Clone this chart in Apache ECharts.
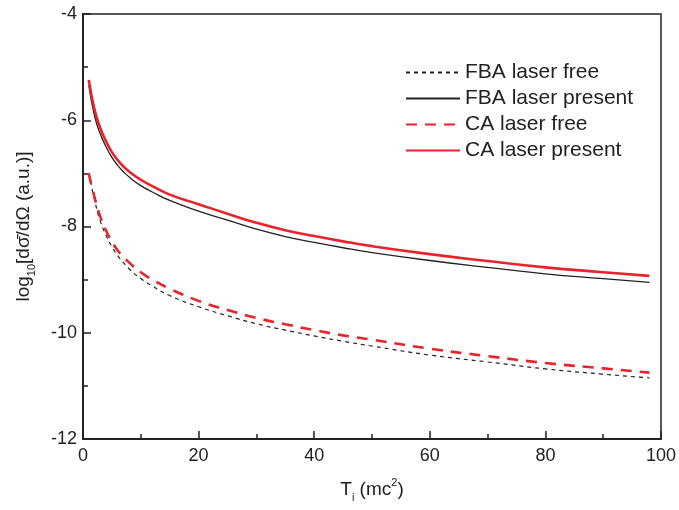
<!DOCTYPE html>
<html>
<head>
<meta charset="utf-8">
<script src="https://cdn.jsdelivr.net/npm/echarts@6/dist/echarts.min.js"></script>
<style>
  html, body { margin: 0; padding: 0; background: #fff; }
  #main { width: 679px; height: 510px; }
</style>
</head>
<body>
<div id="main"></div>
<script>
// energy T_i (mc^2)
var ti = [1, 2, 3, 4, 5, 6, 7, 8, 10, 12, 15, 20, 25, 30, 35, 40, 45, 50, 60, 70, 80, 90, 98];
// log10 of cross section
var fbaFree    = [-7.00, -7.50, -7.90, -8.17, -8.38, -8.55, -8.68, -8.80, -8.98, -9.12, -9.30, -9.51, -9.68, -9.83, -9.95, -10.06, -10.16, -10.25, -10.42, -10.55, -10.68, -10.78, -10.85];
var fbaPresent = [-5.34, -5.92, -6.26, -6.50, -6.70, -6.85, -6.97, -7.07, -7.23, -7.35, -7.51, -7.71, -7.88, -8.05, -8.19, -8.30, -8.40, -8.49, -8.64, -8.77, -8.89, -8.98, -9.05];
var caFree     = [-7.00, -7.45, -7.82, -8.08, -8.28, -8.45, -8.57, -8.68, -8.86, -9.00, -9.17, -9.40, -9.57, -9.72, -9.84, -9.95, -10.05, -10.13, -10.30, -10.44, -10.57, -10.67, -10.75];
var caPresent  = [-5.24, -5.80, -6.15, -6.40, -6.60, -6.75, -6.87, -6.97, -7.12, -7.24, -7.40, -7.58, -7.76, -7.93, -8.07, -8.18, -8.28, -8.37, -8.52, -8.65, -8.77, -8.86, -8.93];

function pairs(ys) {
    return ti.map(function (x, i) { return [x, ys[i]]; });
}

var myChart = echarts.init(document.getElementById('main'));
var axisColor = '#222';
var option = {
    animation: false,
    textStyle: { fontFamily: 'Liberation Sans, Arial, sans-serif' },
    grid: {
        left: 83, right: 15, top: 14, bottom: 71,
        show: true, borderColor: axisColor, borderWidth: 1.5
    },
    legend: {
        orient: 'vertical',
        left: 405,
        top: 62,
        padding: 0,
        itemWidth: 54,
        itemHeight: 14,
        itemGap: 5,
        itemStyle: { opacity: 0 },
        textStyle: { fontSize: 21, color: '#222' },
        data: ['FBA laser free', 'FBA laser present', 'CA laser free', 'CA laser present']
    },
    xAxis: {
        type: 'value',
        min: 0, max: 100, interval: 20,
        name: 'T{sub|i} (mc{sup|2})',
        nameLocation: 'middle',
        nameGap: 38,
        nameTextStyle: {
            fontSize: 19, color: '#222', lineHeight: 26,
            rich: {
                sub: { fontSize: 11, verticalAlign: 'bottom', lineHeight: 26 },
                sup: { fontSize: 11, verticalAlign: 'top', lineHeight: 20 }
            }
        },
        axisLine: { lineStyle: { color: axisColor, width: 2 } },
        axisTick: { inside: true, length: 8, lineStyle: { color: axisColor, width: 1.5 } },
        minorTick: { show: true, splitNumber: 2, length: 5, lineStyle: { color: axisColor, width: 1.5 } },
        axisLabel: { fontSize: 18, color: '#222', margin: 8 },
        splitLine: { show: false }
    },
    yAxis: {
        type: 'value',
        min: -12, max: -4, interval: 2,
        name: 'log{sub|10}[dσ̄/dΩ (a.u.)]',
        nameLocation: 'middle',
        nameGap: 46,
        nameTextStyle: {
            fontSize: 19, color: '#222', lineHeight: 26,
            rich: {
                sub: { fontSize: 11, verticalAlign: 'bottom', lineHeight: 26 }
            }
        },
        axisLine: { show: true, lineStyle: { color: axisColor, width: 2 } },
        axisTick: { inside: true, length: 8, lineStyle: { color: axisColor, width: 1.5 } },
        minorTick: { show: true, splitNumber: 2, length: 5, lineStyle: { color: axisColor, width: 1.5 } },
        axisLabel: { fontSize: 18, color: '#222', margin: 6 },
        splitLine: { show: false }
    },
    series: [
        {
            name: 'FBA laser free', type: 'line', smooth: true, symbol: 'none',
            data: pairs(fbaFree),
            itemStyle: { color: '#222' },
            lineStyle: { color: '#222', width: 1.2, type: [4, 4] }
        },
        {
            name: 'FBA laser present', type: 'line', smooth: true, symbol: 'none',
            data: pairs(fbaPresent),
            itemStyle: { color: '#222' },
            lineStyle: { color: '#222', width: 1.3 }
        },
        {
            name: 'CA laser free', type: 'line', smooth: true, symbol: 'none',
            data: pairs(caFree),
            itemStyle: { color: '#e8232b' },
            lineStyle: { color: '#e8232b', width: 2.6, type: [11, 8] }
        },
        {
            name: 'CA laser present', type: 'line', smooth: true, symbol: 'none',
            data: pairs(caPresent),
            itemStyle: { color: '#e8232b' },
            lineStyle: { color: '#e8232b', width: 2.6 }
        }
    ]
};
myChart.setOption(option);
</script>
</body>
</html>
